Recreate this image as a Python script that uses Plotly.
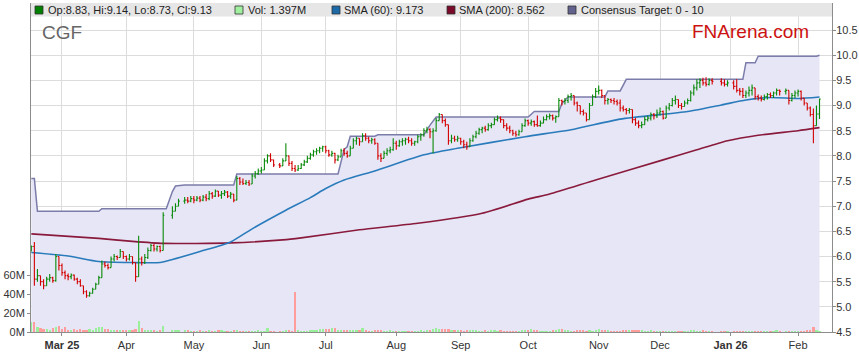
import numpy as np
import pandas as pd
import plotly.graph_objects as go

# ---------------- data ----------------
START = "2025-02-17"
END = "2026-02-11"
holidays = ["2025-04-18", "2025-04-21", "2025-04-25", "2025-06-09",
            "2025-12-25", "2025-12-26", "2026-01-01", "2026-01-26"]

# one line per trading week
closes = [
    6.20, 5.55, 5.62, 5.50, 5.42,
    5.55, 5.58, 5.52, 6.00, 5.82,
    5.68, 5.62, 5.60, 5.63, 5.55,
    5.50, 5.42, 5.30, 5.22, 5.27,
    5.35, 5.45, 5.58, 5.85, 5.82,
    5.78, 5.95, 6.00, 5.98, 6.10,
    6.00, 5.95, 6.00, 5.88, 5.60,
    5.95, 5.88, 5.98, 6.12, 6.22,
    6.15, 6.20, 6.12, 6.82,
    6.90, 7.00, 7.10,
    7.12, 7.10, 7.15, 7.12, 7.16,
    7.12, 7.18, 7.15, 7.25, 7.20,
    7.30, 7.22, 7.25, 7.28, 7.20,
    7.24, 7.12, 7.55, 7.48, 7.45,
    7.47, 7.44, 7.60, 7.65, 7.70,
    7.72, 7.90, 8.00, 7.92, 7.82,
    7.80, 7.90, 8.00, 7.85,
    7.75, 7.72, 7.75, 7.82, 7.88,
    7.95, 8.02, 8.08, 8.10, 8.15,
    8.18, 8.10, 8.02, 8.05, 7.92,
    7.98, 8.10, 8.05, 8.00, 8.15,
    8.30, 8.35, 8.28, 8.40, 8.35,
    8.30, 8.32, 8.25, 8.00, 7.95,
    8.05, 8.10, 8.12, 8.25, 8.20,
    8.28, 8.30, 8.33, 8.30, 8.25,
    8.28, 8.38, 8.42, 8.50, 8.52,
    8.48, 8.50, 8.70, 8.82, 8.70,
    8.62, 8.30, 8.35, 8.32, 8.35,
    8.28, 8.22, 8.18, 8.30, 8.38,
    8.45, 8.52, 8.55, 8.52, 8.60,
    8.62, 8.72, 8.75, 8.72, 8.60,
    8.55, 8.50, 8.45, 8.42, 8.48,
    8.60, 8.70, 8.65, 8.68, 8.62,
    8.60, 8.65, 8.72, 8.78, 8.80,
    8.75, 8.78, 9.10, 9.08, 9.10,
    9.18, 9.20, 9.05, 9.00, 8.88,
    8.85, 8.72, 9.00, 9.18, 9.28,
    9.30, 9.20, 9.10, 9.12, 9.10,
    9.08, 9.05, 8.95, 8.92, 8.90,
    8.92, 8.72, 8.65, 8.60, 8.62,
    8.72, 8.75, 8.82, 8.80, 8.85,
    8.88, 8.75, 8.95, 9.00, 9.10,
    9.12, 9.00, 8.98, 9.05, 9.10,
    9.25, 9.35, 9.45, 9.50, 9.45,
    9.42, 9.50, 9.48,
    9.45, 9.42, 9.45, 9.38,
    9.30, 9.28, 9.20, 9.25, 9.30,
    9.35, 9.18, 9.15, 9.12, 9.18,
    9.22, 9.20, 9.25, 9.30, 9.28,
    9.30, 9.10, 9.20, 9.25,
    9.28, 9.15, 9.05, 8.95, 8.82,
    8.60, 8.83, 9.13,
]

highs = [
    6.22, 6.29, 5.75, 5.62, 5.55,
    5.60, 5.65, 5.60, 6.05, 5.95,
    5.86, 5.72, 5.66, 5.66, 5.64,
    5.58, 5.55, 5.42, 5.33, 5.30,
    5.38, 5.48, 5.62, 5.92, 5.90,
    5.86, 6.00, 6.05, 6.02, 6.15,
    6.10, 6.02, 6.05, 5.98, 5.72,
    6.41, 6.00, 6.05, 6.18, 6.25,
    6.25, 6.22, 6.22, 6.88,
    7.00, 7.06, 7.15,
    7.18, 7.18, 7.20, 7.20, 7.20,
    7.20, 7.22, 7.24, 7.30, 7.28,
    7.33, 7.30, 7.30, 7.32, 7.30,
    7.28, 7.24, 7.60, 7.58, 7.55,
    7.52, 7.52, 7.65, 7.70, 7.75,
    7.78, 7.95, 8.03, 8.05, 7.92,
    7.86, 7.95, 8.25, 7.95,
    7.90, 7.82, 7.82, 7.86, 7.92,
    8.00, 8.06, 8.12, 8.15, 8.18,
    8.20, 8.20, 8.12, 8.10, 8.06,
    8.02, 8.14, 8.15, 8.10, 8.20,
    8.35, 8.38, 8.35, 8.45, 8.45,
    8.38, 8.36, 8.35, 8.20, 8.05,
    8.10, 8.15, 8.18, 8.35, 8.30,
    8.32, 8.35, 8.36, 8.38, 8.35,
    8.30, 8.42, 8.45, 8.55, 8.58,
    8.55, 8.55, 8.75, 8.85, 8.80,
    8.74, 8.45, 8.42, 8.40, 8.40,
    8.36, 8.32, 8.28, 8.35, 8.42,
    8.50, 8.56, 8.58, 8.60, 8.65,
    8.66, 8.76, 8.80, 8.78, 8.72,
    8.65, 8.60, 8.52, 8.50, 8.52,
    8.65, 8.74, 8.72, 8.72, 8.70,
    8.80, 8.70, 8.78, 8.82, 8.84,
    8.82, 8.80, 9.15, 9.12, 9.15,
    9.22, 9.25, 9.20, 9.08, 8.95,
    8.92, 8.85, 9.05, 9.22, 9.35,
    9.40, 9.32, 9.20, 9.15, 9.14,
    9.15, 9.12, 9.12, 9.00, 8.95,
    8.95, 8.88, 8.75, 8.70, 8.68,
    8.78, 8.80, 8.86, 8.85, 8.92,
    8.96, 8.90, 9.00, 9.05, 9.15,
    9.20, 9.12, 9.05, 9.10, 9.14,
    9.30, 9.42, 9.52, 9.54, 9.55,
    9.56, 9.54, 9.54,
    9.54, 9.52, 9.50, 9.50,
    9.52, 9.35, 9.35, 9.30, 9.38,
    9.42, 9.30, 9.22, 9.20, 9.22,
    9.25, 9.26, 9.28, 9.34, 9.32,
    9.34, 9.30, 9.25, 9.30,
    9.32, 9.30, 9.15, 9.05, 8.98,
    8.94, 9.00, 9.14,
]

lows = [
    6.10, 5.42, 5.50, 5.42, 5.35,
    5.42, 5.50, 5.48, 5.50, 5.72,
    5.62, 5.55, 5.53, 5.55, 5.52,
    5.45, 5.40, 5.25, 5.18, 5.20,
    5.26, 5.35, 5.45, 5.70, 5.78,
    5.74, 5.80, 5.90, 5.93, 6.00,
    5.95, 5.90, 5.92, 5.84, 5.50,
    5.78, 5.82, 5.85, 5.95, 6.10,
    6.10, 6.10, 6.08, 6.20,
    6.75, 6.90, 7.00,
    7.05, 7.06, 7.08, 7.06, 7.10,
    7.08, 7.10, 7.10, 7.12, 7.15,
    7.18, 7.18, 7.15, 7.20, 7.16,
    7.15, 7.08, 7.15, 7.42, 7.42,
    7.42, 7.40, 7.50, 7.55, 7.62,
    7.65, 7.75, 7.85, 7.88, 7.78,
    7.76, 7.82, 7.90, 7.80,
    7.70, 7.68, 7.70, 7.74, 7.80,
    7.86, 7.92, 7.98, 8.02, 8.05,
    8.08, 8.05, 7.98, 7.98, 7.85,
    7.90, 7.98, 8.00, 7.96, 8.00,
    8.15, 8.22, 8.20, 8.28, 8.30,
    8.25, 8.24, 8.22, 7.92, 7.88,
    7.95, 8.00, 8.05, 8.10, 8.12,
    8.18, 8.20, 8.22, 8.25, 8.20,
    8.20, 8.25, 8.30, 8.38, 8.45,
    8.35, 8.05, 8.48, 8.70, 8.65,
    8.58, 8.22, 8.25, 8.28, 8.28,
    8.22, 8.15, 8.12, 8.18, 8.28,
    8.35, 8.42, 8.45, 8.48, 8.50,
    8.55, 8.62, 8.68, 8.66, 8.55,
    8.50, 8.45, 8.40, 8.38, 8.40,
    8.48, 8.58, 8.60, 8.60, 8.58,
    8.58, 8.58, 8.65, 8.70, 8.72,
    8.70, 8.66, 8.80, 9.00, 9.02,
    9.05, 9.10, 9.00, 8.88, 8.82,
    8.80, 8.68, 8.75, 9.00, 9.15,
    9.22, 9.15, 9.02, 9.02, 9.05,
    9.02, 9.00, 8.88, 8.88, 8.82,
    8.84, 8.65, 8.60, 8.55, 8.55,
    8.62, 8.68, 8.70, 8.72, 8.75,
    8.80, 8.72, 8.80, 8.90, 8.98,
    9.02, 8.95, 8.92, 8.98, 9.02,
    9.08, 9.20, 9.30, 9.35, 9.40,
    9.38, 9.40, 9.42,
    9.40, 9.38, 9.38, 9.32,
    9.26, 9.20, 9.15, 9.15, 9.18,
    9.20, 9.12, 9.10, 9.08, 9.10,
    9.12, 9.15, 9.15, 9.20, 9.20,
    9.22, 9.02, 9.08, 9.15,
    9.18, 9.10, 9.00, 8.90, 8.78,
    8.25, 8.68, 8.73,
]

first_open = 6.12
last_open = 8.83

volumes_m = [
    10.5, 11.0, 5.0, 4.0, 3.0,
    3.0, 2.5, 4.0, 5.0, 6.5,
    3.0, 5.0, 2.5, 2.0, 3.0,
    2.0, 3.0, 2.5, 2.5, 3.0,
    2.0, 4.0, 5.0, 5.0, 3.5,
    3.0, 2.0, 2.0, 2.0, 2.0,
    2.5, 2.5, 2.0, 2.5, 3.0,
    12.0, 4.0, 2.5, 2.5, 2.0,
    2.5, 1.5, 2.0, 6.5,
    2.0, 2.0, 2.0,
    2.0, 2.5, 1.5, 1.5, 1.5,
    2.5, 1.5, 1.5, 2.0, 1.5,
    1.5, 2.0, 2.0, 1.5, 1.5,
    1.5, 2.0, 2.5, 1.5, 1.5,
    1.5, 1.5, 1.5, 1.5, 2.0,
    1.5, 1.5, 4.0, 1.5, 1.5,
    1.5, 1.5, 2.0, 2.5,
    1.5, 42.0, 2.5, 1.5, 1.5,
    1.5, 2.0, 2.5, 2.0, 3.0,
    3.0, 3.5, 3.0, 4.5, 4.0,
    2.0, 2.0, 2.5, 2.5, 2.0,
    2.5, 2.0, 2.5, 4.0, 2.0,
    1.5, 1.5, 2.0, 2.0, 2.5,
    1.5, 1.5, 2.5, 1.5, 1.5,
    1.5, 1.5, 1.5, 1.5, 1.5,
    1.5, 1.5, 2.0, 1.5, 2.0,
    2.0, 3.5, 4.0, 3.5, 3.0,
    3.5, 3.0, 2.5, 2.5, 2.0,
    2.0, 1.5, 2.0, 2.0, 2.5,
    2.0, 1.5, 1.5, 2.0, 1.5,
    2.0, 2.5, 1.5, 2.0, 1.5,
    1.5, 1.5, 1.5, 1.5, 1.5,
    2.0, 2.0, 2.5, 3.0, 2.5,
    2.0, 1.5, 1.5, 1.5, 1.5,
    2.0, 2.0, 3.0, 3.0, 2.0,
    2.0, 1.5, 1.5, 2.0, 2.0,
    2.0, 1.5, 2.0, 1.5, 2.0,
    3.0, 2.0, 2.0, 2.5, 1.5,
    1.5, 1.5, 1.5, 2.0, 2.0,
    2.5, 2.5, 2.0, 2.0, 2.0,
    1.5, 1.5, 2.0, 1.5, 1.5,
    1.5, 1.5, 1.5, 1.5, 1.5,
    1.5, 1.5, 1.5, 1.5, 1.5,
    2.0, 2.5, 1.5, 1.5, 2.5,
    1.0, 1.0, 0.8,
    1.0, 1.0, 1.0, 0.8,
    1.0, 1.0, 1.0, 1.0, 1.0,
    1.0, 1.5, 1.0, 1.0, 1.0,
    1.0, 1.0, 1.5, 2.0, 1.0,
    1.0, 1.0, 1.0, 1.0,
    1.0, 1.5, 1.5, 2.0, 2.0,
    5.0, 2.5, 1.397,
]

target_dates = ["2025-02-17", "2025-02-18", "2025-02-19", "2025-03-19", "2025-03-20",
                "2025-04-18", "2025-04-22", "2025-04-23", "2025-04-28", "2025-05-20",
                "2025-05-21", "2025-07-07", "2025-07-09", "2025-07-10", "2025-07-11",
                "2025-07-23", "2025-07-24", "2025-08-14", "2025-08-18", "2025-08-20",
                "2025-10-01", "2025-10-03", "2025-10-15", "2025-10-16", "2025-10-20",
                "2025-11-05", "2025-11-06", "2025-11-12", "2025-11-14", "2026-01-07",
                "2026-01-08", "2026-01-13", "2026-01-14", "2026-02-10", "2026-02-11"]
target_values = [7.55, 7.55, 6.90, 6.90, 6.95,
                 6.95, 7.29, 7.40, 7.42, 7.42,
                 7.64, 7.64, 8.13, 8.18, 8.39,
                 8.39, 8.42, 8.42, 8.61, 8.77,
                 8.77, 8.88, 8.88, 9.04, 9.17,
                 9.17, 9.29, 9.29, 9.52, 9.52,
                 9.85, 9.85, 9.98, 9.98, 10.00]

sma60_dates = ["2025-02-17", "2025-03-05", "2025-03-19", "2025-04-03", "2025-04-16",
               "2025-04-22", "2025-05-05", "2025-05-19", "2025-05-28", "2025-06-12",
               "2025-06-24", "2025-07-01", "2025-07-09", "2025-07-23", "2025-08-14",
               "2025-08-29", "2025-09-30", "2025-10-22", "2025-11-12", "2025-12-12",
               "2025-12-29", "2026-01-08", "2026-01-20", "2026-02-02", "2026-02-11"]
sma60_values = [6.08, 6.01, 5.90, 5.88, 5.88,
                5.94, 6.10, 6.29, 6.55, 6.92,
                7.17, 7.35, 7.52, 7.70, 8.02,
                8.15, 8.38, 8.53, 8.73, 8.88,
                9.01, 9.11, 9.16, 9.14, 9.17]

sma200_dates = ["2025-02-17", "2025-03-19", "2025-04-03", "2025-04-17", "2025-05-19",
                "2025-06-11", "2025-06-19", "2025-07-16", "2025-08-12", "2025-09-10",
                "2025-10-01", "2025-10-10", "2025-10-31", "2025-12-02", "2025-12-17",
                "2025-12-31", "2026-01-14", "2026-02-02", "2026-02-11"]
sma200_values = [6.45, 6.36, 6.30, 6.26, 6.27,
                 6.33, 6.37, 6.53, 6.66, 6.86,
                 7.14, 7.24, 7.52, 7.92, 8.12,
                 8.30, 8.41, 8.50, 8.56]

tick_dates = ["2025-03-03", "2025-04-01", "2025-05-01", "2025-06-02", "2025-07-01",
              "2025-08-01", "2025-09-01", "2025-10-01", "2025-11-03", "2025-12-01",
              "2026-01-01", "2026-02-02"]
tick_labels = ["<b>Mar 25</b>", "Apr", "May", "Jun", "Jul", "Aug", "Sep", "Oct",
               "Nov", "Dec", "<b>Jan 26</b>", "Feb"]
price_ticks = [4.5, 5.0, 5.5, 6.0, 6.5, 7.0, 7.5, 8.0, 8.5, 9.0, 9.5, 10.0, 10.5]
vol_ticks_m = [0, 20, 40, 60]

legend_labels = ["Op:8.83, Hi:9.14, Lo:8.73, Cl:9.13", "Vol: 1.397M", "SMA (60): 9.173",
                 "SMA (200): 8.562", "Consensus Target: 0 - 10"]

# ---------------- build ----------------
dates = [d for d in pd.bdate_range(START, END) if d.strftime("%Y-%m-%d") not in holidays]
assert len(dates) == len(closes) == len(highs) == len(lows) == len(volumes_m), \
    (len(dates), len(closes), len(highs), len(lows), len(volumes_m))

t0 = np.datetime64(START)


def widx(ds):
    arr = np.array([np.datetime64(pd.Timestamp(d).strftime("%Y-%m-%d")) for d in ds])
    return np.busday_count(t0, arr).astype(float)


xi = widx(dates)
opens = [first_open] + closes[:-1]
opens[-1] = last_open
highs_adj = [max(h, o, c) for h, o, c in zip(highs, opens, closes)]
lows_adj = [min(l, o, c) for l, o, c in zip(lows, opens, closes)]

UP = "#0a8a0a"
DOWN = "#d40000"
vol_colors = []
for o, c in zip(opens, closes):
    if c > o:
        vol_colors.append("#9af09a")
    elif c < o:
        vol_colors.append("#ff9c9c")
    else:
        vol_colors.append("#a0a0a0")

# pixel geometry of the plot area
W, H = 859, 363
PL, PR, PT, PB = 31, 832, 3, 332


def pxx(px):
    return (px - PL) / (PR - PL)


def pxy(py):
    return (PB - py) / (PB - PT)


x_lo = -0.1
x_hi = x_lo + (PR - PL) / 3.067
y_lo = 4.5
y_hi = 4.5 + (PB - PT) / 50.33
vol_hi = (PB - PT) / 18.9 * 20e6

fig = go.Figure()

# main subplot: target fill + moving averages
fig.add_trace(go.Scatter(
    x=widx(target_dates), y=target_values, mode="lines",
    line=dict(color="#7c7cab", width=1.5), fill="tozeroy", fillcolor="#e6e6f6",
    hoverinfo="skip", showlegend=False))
fig.add_trace(go.Scatter(
    x=widx(sma200_dates), y=sma200_values, mode="lines",
    line=dict(color="#8a1a3c", width=1.6, shape="spline", smoothing=0.6),
    hoverinfo="skip", showlegend=False))
fig.add_trace(go.Scatter(
    x=widx(sma60_dates), y=sma60_values, mode="lines",
    line=dict(color="#2a7bbb", width=1.6, shape="spline", smoothing=0.6),
    hoverinfo="skip", showlegend=False))
# overlay 2: volume
fig.add_trace(go.Bar(
    x=xi, y=[v * 1e6 for v in volumes_m], marker=dict(color=vol_colors, line=dict(width=0)),
    width=0.72, yaxis="y2", hoverinfo="skip", showlegend=False))
# overlay 3: price bars on top
fig.add_trace(go.Ohlc(
    x=xi, open=opens, high=highs_adj, low=lows_adj, close=closes,
    increasing=dict(line=dict(color=UP, width=1.1)),
    decreasing=dict(line=dict(color=DOWN, width=1.1)),
    tickwidth=0.4, yaxis="y3", hoverinfo="skip", showlegend=False))

axis_font = dict(family="Liberation Sans, Arial, sans-serif", size=11, color="#333333")
fig.update_layout(
    width=W, height=H,
    margin=dict(l=PL, r=W - PR, t=PT, b=H - PB, pad=0),
    paper_bgcolor="white", plot_bgcolor="white",
    font=axis_font,
    xaxis=dict(range=[x_lo, x_hi], tickmode="array", tickvals=widx(tick_dates),
               ticktext=tick_labels, showgrid=True, gridcolor="#dcdcdc", gridwidth=1,
               showline=True, linecolor="#8c8c8c", linewidth=1, ticks="outside",
               ticklen=3, tickcolor="#8c8c8c", zeroline=False, automargin=False,
               rangeslider=dict(visible=False), tickfont=axis_font),
    yaxis=dict(range=[y_lo, y_hi], side="right", tickmode="array", tickvals=price_ticks,
               ticktext=[f"{v:.1f}" for v in price_ticks], showgrid=True,
               gridcolor="#dcdcdc", gridwidth=1, showline=True, linecolor="#8c8c8c",
               linewidth=1, ticks="outside", ticklen=3, tickcolor="#8c8c8c",
               ticklabelstandoff=-2,
               zeroline=False, automargin=False, tickfont=axis_font),
    yaxis2=dict(range=[0, vol_hi], overlaying="y", side="left", tickmode="array",
                tickvals=[v * 1e6 for v in vol_ticks_m],
                ticktext=[f"{v}M" for v in vol_ticks_m], showgrid=False,
                showline=True, linecolor="#8c8c8c", linewidth=1, ticks="outside",
                ticklen=3, tickcolor="#8c8c8c", zeroline=False, automargin=False,
                tickfont=axis_font),
    yaxis3=dict(range=[y_lo, y_hi], overlaying="y", side="right", visible=False,
                showgrid=False, zeroline=False, automargin=False),
    bargap=0,
)

# legend bar on top of the plot
shapes = [dict(type="rect", xref="paper", yref="paper", x0=0, x1=1,
               y0=pxy(16.5), y1=pxy(PT), fillcolor="#e6e6e6", line=dict(width=0),
               layer="above")]
legend_colors = ["#008000", "#a0f0a0", "#1c6aa8", "#7a0a2a", "#62628f"]
square_x = [35, 235, 332, 447, 568]
text_x = [46.5, 246.5, 343, 458, 579.5]
annotations = []
for sx, tx, col, lab in zip(square_x, text_x, legend_colors, legend_labels):
    shapes.append(dict(type="rect", xref="paper", yref="paper", x0=pxx(sx), x1=pxx(sx + 8),
                       y0=pxy(14), y1=pxy(6), fillcolor=col,
                       line=dict(color="#333333", width=0.8), layer="above"))
    annotations.append(dict(xref="paper", yref="paper", x=pxx(tx), y=pxy(10.3),
                            xanchor="left", yanchor="middle", text=lab, showarrow=False,
                            font=dict(family="Liberation Sans, Arial, sans-serif",
                                      size=11, color="#222222"), borderpad=0))

annotations.append(dict(xref="paper", yref="paper", x=pxx(41), y=pxy(32.5), xanchor="left",
                        yanchor="middle", text="CGF", showarrow=False, borderpad=0,
                        font=dict(family="Liberation Sans, Arial, sans-serif", size=19,
                                  color="#666666")))
annotations.append(dict(xref="paper", yref="paper", x=pxx(691), y=pxy(31.5), xanchor="left",
                        yanchor="middle", text="FNArena.com", showarrow=False, borderpad=0,
                        font=dict(family="Liberation Sans, Arial, sans-serif", size=19,
                                  color="#cc1111")))

fig.update_layout(shapes=shapes, annotations=annotations)

fig.write_html("out.html", config={"displayModeBar": False, "staticPlot": True},
               post_script="document.body.style.margin='0px';document.body.style.padding='0px';")
